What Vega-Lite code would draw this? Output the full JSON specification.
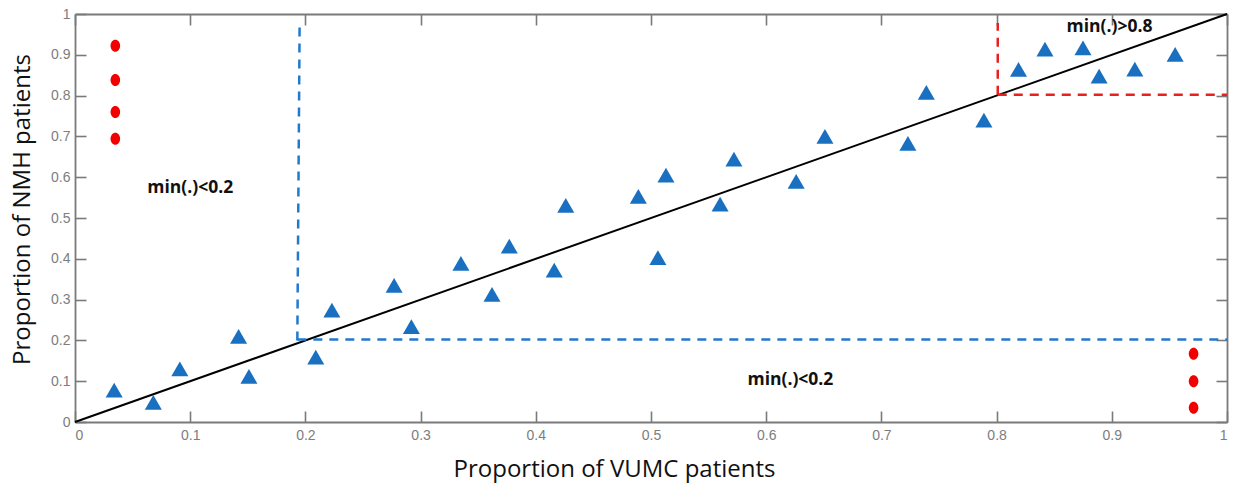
{
  "$schema": "https://vega.github.io/schema/vega-lite/v6.json",
  "width": 1152,
  "height": 408,
  "autosize": {"type": "none"},
  "padding": {"left": 75, "top": 14, "right": 6, "bottom": 61},
  "background": "white",
  "config": {
    "view": {"stroke": null},
    "axis": {
      "grid": false,
      "domainColor": "#7a7a7a",
      "domainWidth": 1.8,
      "tickColor": "#7a7a7a",
      "tickWidth": 1.6,
      "tickSize": -11,
      "labelColor": "#7d7d7d",
      "labelFont": "Liberation Sans",
      "labelFontSize": 14,
      "titleFont": "Open Sans",
      "titleFontWeight": "normal",
      "titleFontSize": 24,
      "titleColor": "#111111"
    }
  },
  "datasets": {
    "triangles": [
      {"vumc": 0.034, "nmh": 0.078},
      {"vumc": 0.068, "nmh": 0.048},
      {"vumc": 0.091, "nmh": 0.130},
      {"vumc": 0.142, "nmh": 0.210},
      {"vumc": 0.151, "nmh": 0.112},
      {"vumc": 0.209, "nmh": 0.159},
      {"vumc": 0.223, "nmh": 0.274},
      {"vumc": 0.277, "nmh": 0.335},
      {"vumc": 0.292, "nmh": 0.234},
      {"vumc": 0.335, "nmh": 0.389},
      {"vumc": 0.362, "nmh": 0.313},
      {"vumc": 0.377, "nmh": 0.431},
      {"vumc": 0.416, "nmh": 0.372},
      {"vumc": 0.426, "nmh": 0.531},
      {"vumc": 0.489, "nmh": 0.553},
      {"vumc": 0.506, "nmh": 0.403},
      {"vumc": 0.513, "nmh": 0.605},
      {"vumc": 0.560, "nmh": 0.534},
      {"vumc": 0.572, "nmh": 0.644},
      {"vumc": 0.626, "nmh": 0.590},
      {"vumc": 0.651, "nmh": 0.700},
      {"vumc": 0.723, "nmh": 0.683},
      {"vumc": 0.739, "nmh": 0.808},
      {"vumc": 0.789, "nmh": 0.740},
      {"vumc": 0.819, "nmh": 0.864},
      {"vumc": 0.842, "nmh": 0.914},
      {"vumc": 0.875, "nmh": 0.917},
      {"vumc": 0.889, "nmh": 0.848},
      {"vumc": 0.920, "nmh": 0.865},
      {"vumc": 0.955, "nmh": 0.901}
    ],
    "dots": [
      {"vumc": 0.035, "nmh": 0.922},
      {"vumc": 0.035, "nmh": 0.838},
      {"vumc": 0.035, "nmh": 0.760},
      {"vumc": 0.035, "nmh": 0.694},
      {"vumc": 0.971, "nmh": 0.167},
      {"vumc": 0.971, "nmh": 0.100},
      {"vumc": 0.971, "nmh": 0.035}
    ],
    "blueLines": [
      {"x": 0.193, "y": 0.2, "x2": 0.195, "y2": 0.981},
      {"x": 0.193, "y": 0.202, "x2": 1.0, "y2": 0.202}
    ],
    "redLines": [
      {"x": 0.801, "y": 0.802, "x2": 0.801, "y2": 0.978},
      {"x": 0.801, "y": 0.802, "x2": 1.0, "y2": 0.802}
    ],
    "diag": [
      {"x": 0, "y": 0, "x2": 1, "y2": 1}
    ],
    "labels": [
      {"x": 0.1, "y": 0.573, "t": "min(.)<0.2"},
      {"x": 0.898, "y": 0.968, "t": "min(.)>0.8"},
      {"x": 0.621, "y": 0.102, "t": "min(.)<0.2"}
    ]
  },
  "resolve": {"axis": {"x": "independent", "y": "independent"}},
  "layer": [
    {
      "data": {"name": "diag"},
      "mark": {"type": "rule", "color": "#000000", "strokeWidth": 2},
      "encoding": {
        "x": {"field": "x", "type": "quantitative", "scale": {"domain": [0, 1], "nice": false},
          "axis": {"values": [0, 0.1, 0.2, 0.3, 0.4, 0.5, 0.6, 0.7, 0.8, 0.9, 1], "format": "~g", "labelPadding": 17,
            "title": "Proportion of VUMC patients", "titleX": 539, "titleY": 47, "titleBaseline": "middle", "titleAlign": "center"}},
        "y": {"field": "y", "type": "quantitative", "scale": {"domain": [0, 1], "nice": false},
          "axis": {"values": [0, 0.1, 0.2, 0.3, 0.4, 0.5, 0.6, 0.7, 0.8, 0.9, 1], "format": "~g", "labelPadding": 16,
            "title": "Proportion of NMH patients", "titleX": -53, "titleY": 195, "titleBaseline": "middle", "titleAlign": "center", "titleAngle": -90}},
        "x2": {"field": "x2"},
        "y2": {"field": "y2"}
      }
    },
    {
      "data": {"name": "diag"},
      "mark": {"type": "rule", "opacity": 0},
      "encoding": {
        "x": {"field": "x", "type": "quantitative", "scale": {"domain": [0, 1], "nice": false},
          "axis": {"orient": "top", "values": [0, 0.1, 0.2, 0.3, 0.4, 0.5, 0.6, 0.7, 0.8, 0.9, 1], "labels": false, "title": null}},
        "y": {"field": "y", "type": "quantitative", "scale": {"domain": [0, 1], "nice": false},
          "axis": {"orient": "right", "values": [0, 0.1, 0.2, 0.3, 0.4, 0.5, 0.6, 0.7, 0.8, 0.9, 1], "labels": false, "title": null}},
        "x2": {"field": "x2"},
        "y2": {"field": "y2"}
      }
    },
    {
      "data": {"name": "blueLines"},
      "mark": {"type": "rule", "color": "#2279cc", "strokeWidth": 2.5, "strokeDash": [9, 7]},
      "encoding": {
        "x": {"field": "x", "type": "quantitative", "axis": null},
        "y": {"field": "y", "type": "quantitative", "axis": null},
        "x2": {"field": "x2"},
        "y2": {"field": "y2"}
      }
    },
    {
      "data": {"name": "redLines"},
      "mark": {"type": "rule", "color": "#e8201e", "strokeWidth": 2.5, "strokeDash": [9, 7]},
      "encoding": {
        "x": {"field": "x", "type": "quantitative", "axis": null},
        "y": {"field": "y", "type": "quantitative", "axis": null},
        "x2": {"field": "x2"},
        "y2": {"field": "y2"}
      }
    },
    {
      "data": {"name": "triangles"},
      "mark": {"type": "point", "shape": "triangle-up", "filled": true, "size": 290, "color": "#1a70c0", "opacity": 1},
      "encoding": {
        "x": {"field": "vumc", "type": "quantitative", "axis": null},
        "y": {"field": "nmh", "type": "quantitative", "axis": null}
      }
    },
    {
      "data": {"name": "dots"},
      "mark": {"type": "point", "shape": "M0,-1A0.8,1 0 1,1 0,1A0.8,1 0 1,1 0,-1Z", "filled": true, "size": 144, "color": "#f20000", "opacity": 1},
      "encoding": {
        "x": {"field": "vumc", "type": "quantitative", "axis": null},
        "y": {"field": "nmh", "type": "quantitative", "axis": null}
      }
    },
    {
      "data": {"name": "labels"},
      "mark": {"type": "text", "font": "Open Sans", "fontWeight": "bold", "fontSize": 17.5, "color": "#111111", "align": "center", "baseline": "middle"},
      "encoding": {
        "x": {"field": "x", "type": "quantitative", "axis": null},
        "y": {"field": "y", "type": "quantitative", "axis": null},
        "text": {"field": "t"}
      }
    }
  ]
}
